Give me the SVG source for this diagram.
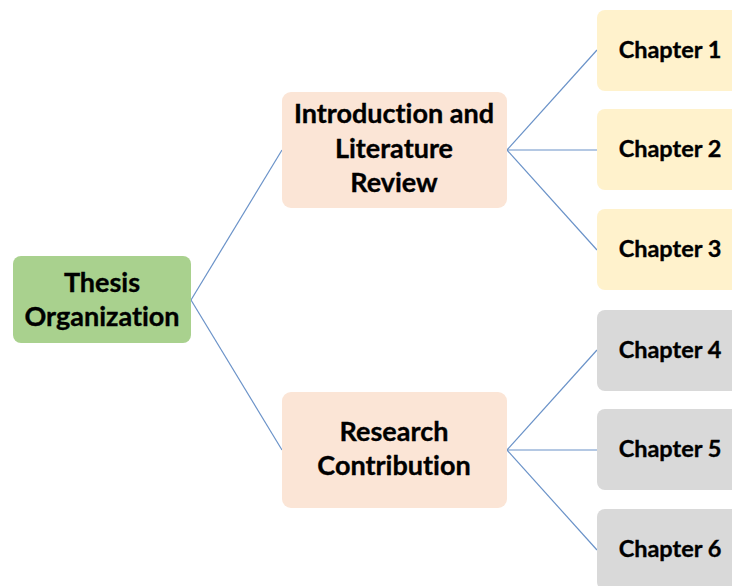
<svg xmlns="http://www.w3.org/2000/svg" width="732" height="586" viewBox="0 0 732 586">
  <style>
    .box { stroke: none; }
    .root { fill: #A9D18E; }
    .branch { fill: #FBE5D6; }
    .leafA { fill: #FFF2CC; }
    .leafB { fill: #D9D9D9; }
    text { font-family: "Lato", "Open Sans", "Liberation Sans", sans-serif; font-weight: bold; fill: #000; text-anchor: middle; stroke: #000; stroke-width: 0.35; font-variant-ligatures: none; }
    .big { font-size: 27px; }
    .leaf { font-size: 23.5px; }
    .link { stroke: #6A92C8; stroke-width: 1.2; fill: none; }
  </style>
  <rect width="732" height="586" fill="#ffffff"/>

  <g id="connectors">
    <line class="link" x1="191" y1="300" x2="282" y2="150"/>
    <line class="link" x1="191" y1="300" x2="282" y2="450"/>
    <line class="link" x1="507" y1="150" x2="597" y2="50"/>
    <line class="link" x1="507" y1="150" x2="597" y2="150"/>
    <line class="link" x1="507" y1="150" x2="597" y2="250"/>
    <line class="link" x1="507" y1="450" x2="597" y2="350"/>
    <line class="link" x1="507" y1="450" x2="597" y2="450"/>
    <line class="link" x1="507" y1="450" x2="597" y2="550"/>
  </g>

  <g id="thesis">
    <rect class="box root" x="13" y="256" width="178" height="87" rx="8"/>
    <text class="big" x="102" y="292">Thesis</text>
    <text class="big" x="102" y="326">Organization</text>
  </g>

  <g id="intro">
    <rect class="box branch" x="282" y="92" width="225" height="116" rx="9"/>
    <text class="big" x="394" y="123">Introduction and</text>
    <text class="big" x="394" y="158">Literature</text>
    <text class="big" x="394" y="192">Review</text>
  </g>

  <g id="research">
    <rect class="box branch" x="282" y="392" width="225" height="116" rx="9"/>
    <text class="big" x="394" y="441">Research</text>
    <text class="big" x="394" y="475">Contribution</text>
  </g>

  <g id="ch1">
    <rect class="box leafA" x="597" y="10" width="150" height="81" rx="8"/>
    <text class="leaf" x="670" y="58">Chapter 1</text>
  </g>
  <g id="ch2">
    <rect class="box leafA" x="597" y="109" width="150" height="81" rx="8"/>
    <text class="leaf" x="670" y="157">Chapter 2</text>
  </g>
  <g id="ch3">
    <rect class="box leafA" x="597" y="209" width="150" height="81" rx="8"/>
    <text class="leaf" x="670" y="257">Chapter 3</text>
  </g>
  <g id="ch4">
    <rect class="box leafB" x="597" y="310" width="150" height="81" rx="8"/>
    <text class="leaf" x="670" y="358">Chapter 4</text>
  </g>
  <g id="ch5">
    <rect class="box leafB" x="597" y="409" width="150" height="81" rx="8"/>
    <text class="leaf" x="670" y="457">Chapter 5</text>
  </g>
  <g id="ch6">
    <rect class="box leafB" x="597" y="509" width="150" height="81" rx="8"/>
    <text class="leaf" x="670" y="557">Chapter 6</text>
  </g>
</svg>
